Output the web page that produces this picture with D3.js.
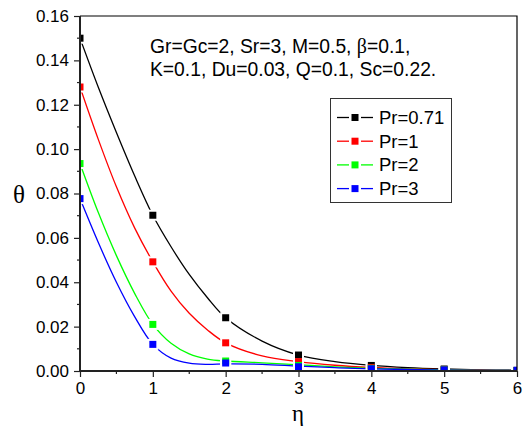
<!DOCTYPE html>
<html>
<head>
<meta charset="utf-8">
<script src="https://cdnjs.cloudflare.com/ajax/libs/d3/7.8.5/d3.min.js"></script>
<style>
  body { margin: 0; background: #fff; }
  svg { display: block; font-family: Arial, "Liberation Sans", sans-serif; }
</style>
</head>
<body>
<div id="chart"></div>
<script>
// Data
const seriesNames = ["Pr=0.71", "Pr=1", "Pr=2", "Pr=3"];
const seriesColors = ["#000000", "#ff0000", "#00ff00", "#0000ff"];

const etaMarks = [0, 1, 2, 3, 4, 5, 6];
const markPr071 = [0.150, 0.0702, 0.024, 0.0072, 0.0025, 0.0009, 0.0003];
const markPr1 = [0.128, 0.0492, 0.0127, 0.0042, 0.0016, 0.0006, 0.0002];
const markPr2 = [0.0935, 0.021, 0.0045, 0.0025, 0.0012, 0.0005, 0.0002];
const markPr3 = [0.0777, 0.012, 0.0036, 0.0019, 0.001, 0.0005, 0.0003];

const etaCurve = [0, 0.25, 0.5, 0.75, 1, 1.25, 1.5, 1.75, 2, 2.5, 3, 3.5, 4, 4.5, 5, 5.5, 6];
const curvePr071 = [0.150, 0.128, 0.1075, 0.088, 0.0702, 0.056, 0.0435, 0.033, 0.024, 0.0135, 0.0072, 0.0042, 0.0025, 0.0015, 0.0009, 0.0005, 0.0003];
const curvePr1 = [0.128, 0.1045, 0.083, 0.0645, 0.0492, 0.036, 0.026, 0.0185, 0.0127, 0.0068, 0.0042, 0.0026, 0.0016, 0.001, 0.0006, 0.0004, 0.0002];
const curvePr2 = [0.0935, 0.0715, 0.052, 0.035, 0.021, 0.0125, 0.0077, 0.0054, 0.0045, 0.0037, 0.0028, 0.0019, 0.0012, 0.0008, 0.0005, 0.0003, 0.0002];
const curvePr3 = [0.0777, 0.058, 0.040, 0.0245, 0.012, 0.0058, 0.0035, 0.003, 0.0032, 0.003, 0.0022, 0.0015, 0.001, 0.0007, 0.0004, 0.0003, 0.0002];

const yTicks = [0, 0.02, 0.04, 0.06, 0.08, 0.10, 0.12, 0.14, 0.16];
const xTicks = [0, 1, 2, 3, 4, 5, 6];
// each note line split so the Greek letter can use a serif face
const noteLines = [
    ["Gr=Gc=2, Sr=3, M=0.5, ", "\u03b2", "=0.1,"],
    ["K=0.1, Du=0.03, Q=0.1, Sc=0.22."]
];

const marks = [markPr071, markPr1, markPr2, markPr3];
const curves = [curvePr071, curvePr1, curvePr2, curvePr3];

// Layout
const W = 523, H = 428;
const plot = { left: 80, top: 16, right: 517, bottom: 371 };
const serif = "'Liberation Serif', 'Times New Roman', 'DejaVu Serif', serif";

const svg = d3.select("#chart").append("svg")
    .attr("width", W)
    .attr("height", H);

const x = d3.scaleLinear().domain([0, 6]).range([plot.left, plot.right]);
const y = d3.scaleLinear().domain([0, 0.16]).range([plot.bottom, plot.top]);

svg.append("clipPath").attr("id", "plotclip")
    .append("rect")
    .attr("x", plot.left).attr("y", plot.top)
    .attr("width", plot.right - plot.left).attr("height", plot.bottom - plot.top);

const inner = svg.append("g").attr("clip-path", "url(#plotclip)");

// Curves
const line = d3.line()
    .x(d => x(d[0]))
    .y(d => y(d[1]))
    .curve(d3.curveCatmullRom.alpha(0.5));

curves.forEach((c, i) => {
    inner.append("path")
        .datum(etaCurve.map((e, k) => [e, c[k]]))
        .attr("fill", "none")
        .attr("stroke", seriesColors[i])
        .attr("stroke-width", 1.3)
        .attr("d", line);
});

// White gaps around the symbols, then the symbols
const ms = 7, gap = 11;
marks.forEach(m => {
    inner.selectAll(null)
        .data(etaMarks.map((e, k) => [e, m[k]]))
        .join("rect")
        .attr("x", d => x(d[0]) - gap / 2)
        .attr("y", d => y(d[1]) - gap / 2)
        .attr("width", gap).attr("height", gap)
        .attr("fill", "#fff");
});
marks.forEach((m, i) => {
    inner.selectAll(null)
        .data(etaMarks.map((e, k) => [e, m[k]]))
        .join("rect")
        .attr("x", d => x(d[0]) - ms / 2)
        .attr("y", d => y(d[1]) - ms / 2)
        .attr("width", ms).attr("height", ms)
        .attr("fill", seriesColors[i]);
});

// Frame top/right
svg.append("path")
    .attr("d", `M${plot.left},${plot.top}H${plot.right}V${plot.bottom}`)
    .attr("fill", "none")
    .attr("stroke", "#000")
    .attr("stroke-width", 1.2);

// Y axis
const yAxis = svg.append("g")
    .attr("transform", `translate(${plot.left},0)`)
    .call(d3.axisLeft(y).tickValues(yTicks).tickFormat(d3.format(".2f")).tickSize(6).tickPadding(5));
yAxis.selectAll("g.minor")
    .data(d3.range(0.01, 0.16, 0.02))
    .join("line")
    .attr("x1", -3).attr("x2", 0)
    .attr("y1", d => y(d)).attr("y2", d => y(d))
    .attr("stroke", "#222").attr("stroke-width", 1.2);

// X axis
const xAxis = svg.append("g")
    .attr("transform", `translate(0,${plot.bottom})`)
    .call(d3.axisBottom(x).tickValues(xTicks).tickFormat(d3.format("d")).tickSize(6).tickPadding(5));
xAxis.selectAll("g.minor")
    .data(d3.range(0.5, 6, 1))
    .join("line")
    .attr("y1", 0).attr("y2", 3)
    .attr("x1", d => x(d)).attr("x2", d => x(d))
    .attr("stroke", "#222").attr("stroke-width", 1.2);

[yAxis, xAxis].forEach(a => {
    a.select(".domain").attr("stroke", "#222").attr("stroke-width", 2);
    a.selectAll(".tick line").attr("stroke", "#222").attr("stroke-width", 1.2);
    a.selectAll(".tick text")
        .attr("fill", "#000")
        .style("font-family", "Arial, 'Liberation Sans', sans-serif")
        .style("font-size", "17px");
});
yAxis.select(".domain").attr("d", `M0,${plot.top}V${plot.bottom}`);
xAxis.select(".domain").attr("d", `M${plot.left},0H${plot.right}`);

// Axis titles
svg.append("text")
    .attr("x", 19).attr("y", 203)
    .attr("text-anchor", "middle")
    .style("font-family", serif)
    .style("font-size", "25px")
    .text("\u03b8");

svg.append("text")
    .attr("x", 298).attr("y", 421)
    .attr("text-anchor", "middle")
    .style("font-family", serif)
    .style("font-size", "23px")
    .text("\u03b7");

// Parameter note
const note = svg.append("g").selectAll("text")
    .data(noteLines)
    .join("text")
    .attr("x", 150)
    .attr("y", (d, i) => 53 + i * 23)
    .style("font-size", "19.3px");
note.selectAll("tspan")
    .data(d => d)
    .join("tspan")
    .style("font-family", d => d === "\u03b2" ? serif : null)
    .style("font-size", d => d === "\u03b2" ? "20px" : null)
    .text(d => d);

// Legend
const legend = svg.append("g");
legend.append("rect")
    .attr("x", 330.5).attr("y", 98.5)
    .attr("width", 121).attr("height", 104)
    .attr("fill", "#fff")
    .attr("stroke", "#333")
    .attr("stroke-width", 1);

const rows = legend.selectAll("g.row")
    .data(seriesNames)
    .join("g")
    .attr("transform", (d, i) => `translate(0,${117.5 + i * 23.7})`);
rows.append("line")
    .attr("x1", 337).attr("x2", 349).attr("y1", 0).attr("y2", 0)
    .attr("stroke", (d, i) => seriesColors[i]).attr("stroke-width", 1.3);
rows.append("line")
    .attr("x1", 361).attr("x2", 373).attr("y1", 0).attr("y2", 0)
    .attr("stroke", (d, i) => seriesColors[i]).attr("stroke-width", 1.3);
rows.append("rect")
    .attr("x", 355 - ms / 2).attr("y", -ms / 2)
    .attr("width", ms).attr("height", ms)
    .attr("fill", (d, i) => seriesColors[i]);
rows.append("text")
    .attr("x", 379).attr("y", 6.5)
    .style("font-size", "18.5px")
    .text(d => d);
</script>
</body>
</html>
